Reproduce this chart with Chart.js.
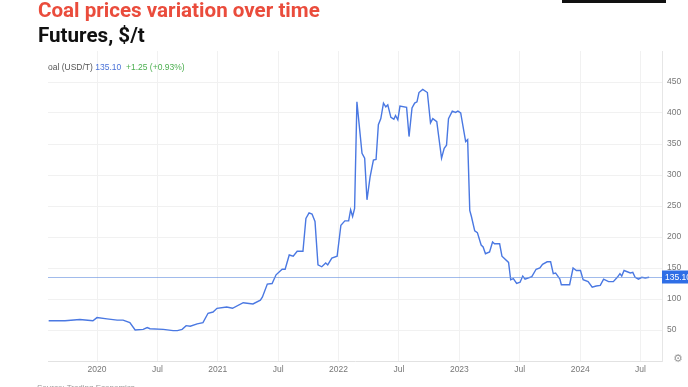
<!DOCTYPE html>
<html>
<head>
<meta charset="utf-8">
<script src="https://cdn.jsdelivr.net/npm/chart.js@4.4.1/dist/chart.umd.min.js"></script>
<style>
  html, body { margin: 0; padding: 0; background: #fff; }
  body { width: 688px; height: 387px; position: relative; overflow: hidden; font-family: Roboto, "Liberation Sans", sans-serif; }
  #wrap { position: absolute; left: 0; top: 0; width: 688px; height: 387px; }
  .title { position: absolute; left: 38px; font-weight: 700; font-size: 20.6px; line-height: 20px; }
  #t1 { top: 0px; color: #ea4c3c; }
  #t2 { top: 25px; color: #111; }
  #topbar { position: absolute; left: 562px; top: 0; width: 104px; height: 3px; background: #111; }
  #head { position: absolute; left: 48px; top: 62px; font-family: "Liberation Sans", Arial, sans-serif; font-size: 8.5px; color: #555; white-space: nowrap; }
  #head .px { color: #4a72d8; }
  #head .ch { color: #4caf50; }
  #gear { position: absolute; left: 673px; top: 352px; font-family: "DejaVu Sans", sans-serif; font-size: 11px; color: #999; }
  #src { position: absolute; left: 37px; top: 383px; font-family: "Liberation Sans", Arial, sans-serif; font-size: 8px; color: #999; }
</style>
</head>
<body>
<div id="wrap"><canvas id="coalChart"></canvas></div>
<div id="t1" class="title">Coal prices variation over time</div>
<div id="t2" class="title">Futures, $/t</div>
<div id="topbar"></div>
<div id="head">oal (USD/T) <span class="px">135.10</span>&nbsp; <span class="ch">+1.25 (+0.93%)</span></div>
<div id="gear">⚙</div>
<div id="src">Source: Trading Economics</div>

<script>
// coal futures, USD/t
const dates = [
  "2019-08-07", "2019-09-26", "2019-11-10", "2019-12-19", "2020-01-01", "2020-01-31",
  "2020-03-01", "2020-03-19", "2020-04-09", "2020-04-25", "2020-05-19", "2020-05-31",
  "2020-06-09", "2020-07-19", "2020-08-18", "2020-08-31", "2020-09-15", "2020-09-27",
  "2020-10-09", "2020-10-30", "2020-11-17", "2020-12-02", "2020-12-17", "2020-12-29",
  "2021-01-28", "2021-02-15", "2021-03-17", "2021-04-16", "2021-05-08", "2021-05-14",
  "2021-05-29", "2021-06-13", "2021-06-25", "2021-07-13", "2021-07-22", "2021-08-04",
  "2021-08-16", "2021-08-28", "2021-09-15", "2021-09-24", "2021-10-03", "2021-10-12",
  "2021-10-21", "2021-10-30", "2021-11-11", "2021-11-23", "2021-11-29", "2021-12-11",
  "2021-12-27", "2022-01-08", "2022-01-20", "2022-02-01", "2022-02-07", "2022-02-13",
  "2022-02-19", "2022-02-26", "2022-03-11", "2022-03-19", "2022-03-26", "2022-04-05",
  "2022-04-15", "2022-04-23", "2022-04-30", "2022-05-07", "2022-05-15", "2022-05-22",
  "2022-05-28", "2022-06-07", "2022-06-16", "2022-06-21", "2022-06-28", "2022-07-04",
  "2022-07-24", "2022-08-01", "2022-08-10", "2022-08-18", "2022-08-25", "2022-08-31",
  "2022-09-12", "2022-09-26", "2022-10-05", "2022-10-12", "2022-10-24", "2022-11-08",
  "2022-11-16", "2022-11-23", "2022-11-29", "2022-12-10", "2022-12-20", "2022-12-27",
  "2023-01-05", "2023-01-20", "2023-01-26", "2023-02-02", "2023-02-07", "2023-02-17",
  "2023-02-25", "2023-03-06", "2023-03-12", "2023-03-19", "2023-04-01", "2023-04-10",
  "2023-04-16", "2023-05-01", "2023-05-08", "2023-05-28", "2023-06-04", "2023-06-12",
  "2023-06-22", "2023-07-02", "2023-07-10", "2023-07-17", "2023-08-07", "2023-08-20",
  "2023-09-01", "2023-09-09", "2023-09-23", "2023-10-03", "2023-10-11", "2023-10-18",
  "2023-10-31", "2023-11-05", "2023-11-30", "2023-12-10", "2023-12-20", "2024-01-02",
  "2024-01-10", "2024-01-25", "2024-02-07", "2024-02-19", "2024-03-01", "2024-03-11",
  "2024-03-26", "2024-04-10", "2024-04-22", "2024-04-30", "2024-05-05", "2024-05-12",
  "2024-05-31", "2024-06-08", "2024-06-15", "2024-06-25", "2024-07-05", "2024-07-15",
  "2024-07-27"
];
const prices = [
  65, 65, 67, 65, 70, 68,
  66, 66, 62, 50, 51, 54,
  52, 51, 49, 49, 51, 57,
  56, 60, 62, 77, 79, 85,
  87, 85, 94, 92, 98, 103,
  124, 125, 139, 148, 148, 171,
  169, 177, 177, 230, 239, 237,
  225, 155, 152, 158, 155, 166,
  169, 219, 226, 226, 244, 233,
  246, 418, 335, 327, 260, 297,
  324, 325, 381, 391, 416, 410,
  413, 393, 390, 396, 389, 411,
  409, 362, 408, 416, 418, 433,
  438, 433, 384, 391, 386, 327,
  343, 348, 391, 403, 401, 403,
  400, 354, 357, 243, 233, 210,
  207, 187, 184, 173, 176, 192,
  189, 189, 169, 159, 131, 133,
  125, 127, 137, 132, 136, 148,
  150, 156, 160, 160, 141, 142,
  132, 123, 123, 150, 146, 146,
  131, 128, 119, 121, 122, 132,
  128, 128, 135, 141, 137, 146,
  142, 143, 135, 132, 135, 134,
  135
];
const lastPrice = 135.10;

const xTickValues = [2020, 2020.5, 2021, 2021.5, 2022, 2022.5, 2023, 2023.5, 2024, 2024.5];
const xTickLabels = ["2020", "Jul", "2021", "Jul", "2022", "Jul", "2023", "Jul", "2024", "Jul"];
const yTickValues = [50, 100, 150, 200, 250, 300, 350, 400, 450];

function toYear(s) {
  const [y, m, d] = s.split("-").map(Number);
  return y + (m - 1) / 12 + (d - 1) / 365;
}

const points = dates.map((d, i) => ({ x: toYear(d), y: prices[i] }));

// last price line + blue box on the right axis
const lastPricePlugin = {
  id: "lastPrice",
  afterDatasetsDraw(chart) {
    const { ctx, chartArea, scales } = chart;
    const y = Math.round(scales.y.getPixelForValue(lastPrice)) + 0.5;
    ctx.save();
    ctx.strokeStyle = "rgba(110,150,225,0.65)";
    ctx.lineWidth = 1;
    ctx.beginPath();
    ctx.moveTo(chartArea.left, y);
    ctx.lineTo(chartArea.right, y);
    ctx.stroke();
    ctx.fillStyle = "#2f6ee6";
    ctx.fillRect(chartArea.right, y - 7, 30, 13);
    ctx.fillStyle = "#fff";
    ctx.font = "8.5px 'Liberation Sans', Arial, sans-serif";
    ctx.textBaseline = "middle";
    ctx.fillText(lastPrice.toFixed(2), chartArea.right + 3, y);
    ctx.restore();
  }
};

new Chart(document.getElementById("coalChart"), {
  type: "line",
  data: {
    datasets: [{
      label: "Coal",
      data: points,
      borderColor: "#4a78e2",
      borderWidth: 1.4,
      pointRadius: 0,
      tension: 0,
      fill: false
    }]
  },
  options: {
    responsive: true,
    maintainAspectRatio: false,
    animation: false,
    layout: { padding: { top: 51, left: 48, right: 0, bottom: 0 } },
    plugins: {
      legend: { display: false },
      tooltip: { enabled: false }
    },
    scales: {
      x: {
        type: "linear",
        min: toYear("2019-08-05"),
        max: toYear("2024-09-05"),
        afterBuildTicks: scale => { scale.ticks = xTickValues.map(v => ({ value: v })); },
        afterFit: scale => { scale.height = 26; },
        grid: { color: "#f1f1f1", drawTicks: false },
        border: { color: "#e2e2e2" },
        ticks: {
          padding: 4,
          maxRotation: 0,
          color: "#777",
          font: { family: "'Liberation Sans', Arial, sans-serif", size: 8.5 },
          callback: v => xTickLabels[xTickValues.indexOf(v)]
        }
      },
      y: {
        position: "right",
        min: 0,
        max: 500,
        afterBuildTicks: scale => { scale.ticks = yTickValues.map(v => ({ value: v })); },
        afterFit: scale => { scale.width = 26; },
        grid: { color: "#f1f1f1", drawTicks: false },
        border: { color: "#e6e6e6" },
        ticks: {
          padding: 5,
          color: "#777",
          font: { family: "'Liberation Sans', Arial, sans-serif", size: 8.5 }
        }
      }
    }
  },
  plugins: [lastPricePlugin]
});
</script>
</body>
</html>
